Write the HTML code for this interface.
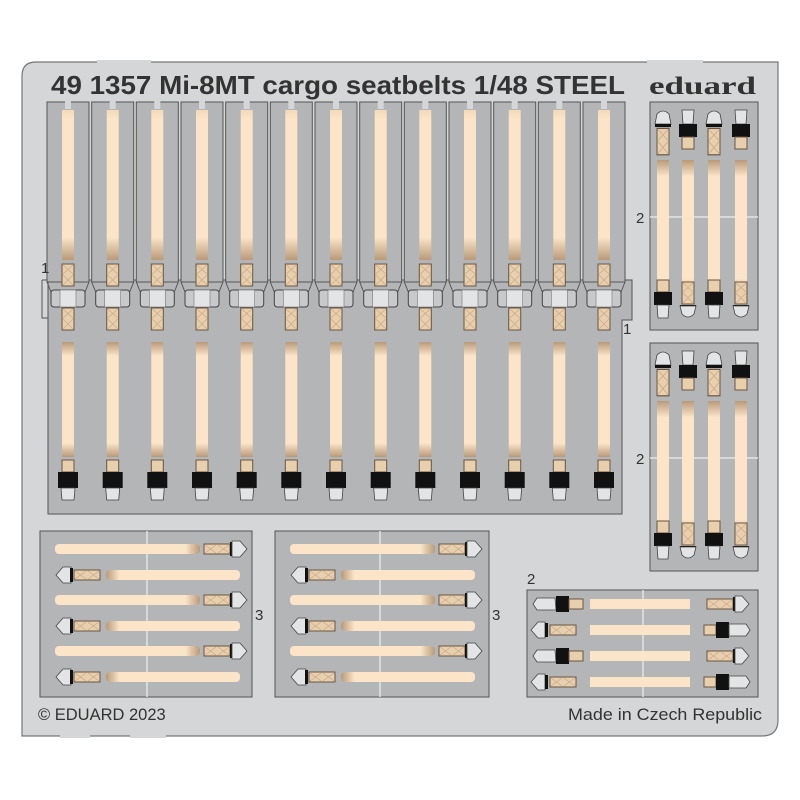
<!DOCTYPE html>
<html><head><meta charset="utf-8"><style>
html,body{margin:0;padding:0;background:#fff;width:800px;height:800px;overflow:hidden}
svg{display:block}
text{font-family:"Liberation Sans",sans-serif;fill:#333}
</style></head><body>
<svg width="800" height="800" viewBox="0 0 800 800" xmlns="http://www.w3.org/2000/svg">
<defs>
<linearGradient id="gv" x1="0" y1="0" x2="0" y2="1">
<stop offset="0" stop-color="#f3d9b8"/><stop offset="0.06" stop-color="#fbe4c8"/><stop offset="0.85" stop-color="#fbe4c8"/><stop offset="1" stop-color="#b89a7a"/>
</linearGradient>
<linearGradient id="gv2" x1="0" y1="0" x2="0" y2="1">
<stop offset="0" stop-color="#b89a7a"/><stop offset="0.12" stop-color="#fbe4c8"/><stop offset="0.88" stop-color="#fbe4c8"/><stop offset="1" stop-color="#b89a7a"/>
</linearGradient>
<linearGradient id="gh" x1="0" y1="0" x2="1" y2="0">
<stop offset="0" stop-color="#fbe4c8"/><stop offset="0.9" stop-color="#fbe4c8"/><stop offset="1" stop-color="#b89a7a"/>
</linearGradient>
<linearGradient id="gh2" x1="0" y1="0" x2="1" y2="0">
<stop offset="0" stop-color="#b89a7a"/><stop offset="0.1" stop-color="#fbe4c8"/><stop offset="1" stop-color="#fbe4c8"/>
</linearGradient>
<g id="boxv"><rect x="-6" y="0" width="12" height="22" fill="#e8cfae" stroke="#6a5540" stroke-width="1"/><path d="M-5 1L5 10M5 1L-5 10M-5 11L5 21M5 11L-5 21" stroke="#c9a987" stroke-width="0.7"/></g>
<g id="boxh"><rect x="0" y="-5" width="26" height="10" fill="#e8cfae" stroke="#6a5540" stroke-width="1"/><path d="M1 -4L12 4M12 -4L1 4M14 -4L25 4M25 -4L14 4" stroke="#c9a987" stroke-width="0.7"/></g>
<g id="col">
<rect x="-21" y="102" width="42" height="180" fill="#b3b5b7" stroke="#555" stroke-width="1"/>
<rect x="-3" y="101" width="6" height="8" fill="#d4d6d7"/>
<rect x="-6" y="110" width="12" height="150" fill="url(#gv)"/>
<use href="#boxv" y="264"/>
<path d="M-21 282L-17 292M21 282L17 292" stroke="#555" fill="none"/>
<rect x="-17" y="290" width="34" height="17" rx="3" fill="#c7c9cb" stroke="#444"/>
<rect x="-8" y="290" width="16" height="17" fill="#e2e4e5" stroke="#777" stroke-width="0.6"/>
<use href="#boxv" y="308"/>
<rect x="-6" y="342" width="12" height="115" fill="url(#gv2)"/>
<rect x="-6" y="460" width="12" height="12" fill="#e8cfae" stroke="#6a5540"/>
<rect x="-10" y="472" width="20" height="16" fill="#111"/>
<path d="M-7 488L7 488L6 500L-6 500Z" fill="#e2e4e5" stroke="#444" stroke-width="0.8"/>
</g>
<g id="vA">
<path d="M-8 124L-6 114Q0 108 6 114L8 124Z" fill="#e2e4e5" stroke="#444" stroke-width="0.8"/>
<rect x="-8" y="124" width="16" height="3" fill="#111"/>
<use href="#boxv" y="128" transform="scale(1,1.2) translate(0,-21)"/>
<rect x="-6" y="160" width="12" height="135" fill="url(#gv2)"/>
<rect x="-6" y="280" width="12" height="12" fill="#e8cfae" stroke="#6a5540"/>
<rect x="-9" y="292" width="18" height="13" fill="#111"/>
<path d="M-6 305L6 305L5 318L-5 318Z" fill="#e2e4e5" stroke="#444" stroke-width="0.8"/>
</g>
<g id="vB">
<path d="M-6 110L6 110L5 124L-5 124Z" fill="#e2e4e5" stroke="#444" stroke-width="0.8"/>
<rect x="-9" y="124" width="18" height="13" fill="#111"/>
<rect x="-6" y="137" width="12" height="12" fill="#e8cfae" stroke="#6a5540"/>
<rect x="-6" y="160" width="12" height="135" fill="url(#gv2)"/>
<use href="#boxv" y="282"/>
<rect x="-8" y="305" width="16" height="3" fill="#111"/>
<path d="M-8 306L8 306L6 314Q0 320 -6 314Z" fill="#e2e4e5" stroke="#444" stroke-width="0.8"/>
</g>
<g id="hR">
<rect x="15" y="-5" width="145" height="10" rx="4" fill="url(#gh)"/>
<use href="#boxh" x="164"/>
<rect x="190" y="-7" width="3" height="14" fill="#111"/>
<path d="M192 -8L200 -8L207 0L200 8L192 8Z" fill="#e2e4e5" stroke="#444" stroke-width="0.8"/>
</g>
<g id="hL">
<path d="M31 -8L23 -8L16 0L23 8L31 8Z" fill="#e2e4e5" stroke="#444" stroke-width="0.8"/>
<rect x="30" y="-7" width="3" height="14" fill="#111"/>
<use href="#boxh" x="34"/>
<rect x="66" y="-5" width="134" height="10" rx="4" fill="url(#gh2)"/>
</g>
</defs>

<path d="M22 76Q22 62 36 62L778 62L778 720Q778 736 762 736L22 736Z" fill="#d4d6d7" stroke="#777" stroke-width="1.2"/>
<rect x="97" y="60" width="54" height="4" fill="#d4d6d7"/>
<rect x="647" y="60" width="56" height="4" fill="#d4d6d7"/>
<rect x="60" y="734" width="30" height="4" fill="#d4d6d7"/>
<rect x="130" y="734" width="36" height="4" fill="#d4d6d7"/>

<text x="51" y="94" font-size="26" font-weight="bold" fill="#333" textLength="574" lengthAdjust="spacingAndGlyphs">49 1357 Mi-8MT cargo seatbelts 1/48  STEEL</text>
<text x="649" y="94" font-size="25" font-weight="bold" style="font-family:'Liberation Serif',serif" textLength="107" lengthAdjust="spacingAndGlyphs">eduard</text>

<path d="M42 280L48 280L48 514L622 514L622 320L632 320L632 280L622 280L48 280" fill="#b3b5b7" stroke="#555"/>
<path d="M42 280L42 318L48 318" fill="none" stroke="#555"/>
<use href="#col" x="68"/><use href="#col" x="112.7"/><use href="#col" x="157.3"/><use href="#col" x="202"/><use href="#col" x="246.7"/><use href="#col" x="291.3"/><use href="#col" x="336"/><use href="#col" x="380.7"/><use href="#col" x="425.3"/><use href="#col" x="470"/><use href="#col" x="514.7"/><use href="#col" x="559.3"/><use href="#col" x="604"/>
<text x="41" y="273" font-size="15">1</text>
<text x="623" y="334" font-size="15">1</text>

<rect x="650" y="102" width="108" height="228" fill="#b3b5b7" stroke="#555"/>
<line x1="650" y1="217" x2="758" y2="217" stroke="#e2e4e5" stroke-width="1.5"/>
<use href="#vA" x="663"/><use href="#vB" x="688"/><use href="#vA" x="714"/><use href="#vB" x="741"/>
<text x="636" y="223" font-size="15">2</text>
<rect x="650" y="343" width="108" height="228" fill="#b3b5b7" stroke="#555"/>
<line x1="650" y1="458" x2="758" y2="458" stroke="#e2e4e5" stroke-width="1.5"/>
<g transform="translate(0,241)"><use href="#vA" x="663"/><use href="#vB" x="688"/><use href="#vA" x="714"/><use href="#vB" x="741"/></g>
<text x="636" y="464" font-size="15">2</text>

<rect x="40" y="531" width="212" height="166" fill="#b3b5b7" stroke="#555"/>
<line x1="147" y1="531" x2="147" y2="697" stroke="#e2e4e5" stroke-width="1.5"/>
<use href="#hR" x="40" y="549"/><use href="#hL" x="40" y="575"/><use href="#hR" x="40" y="600"/><use href="#hL" x="40" y="626"/><use href="#hR" x="40" y="651"/><use href="#hL" x="40" y="677"/>
<text x="255" y="620" font-size="15">3</text>
<rect x="275" y="531" width="214" height="166" fill="#b3b5b7" stroke="#555"/>
<line x1="380" y1="531" x2="380" y2="697" stroke="#e2e4e5" stroke-width="1.5"/>
<use href="#hR" x="275" y="549"/><use href="#hL" x="275" y="575"/><use href="#hR" x="275" y="600"/><use href="#hL" x="275" y="626"/><use href="#hR" x="275" y="651"/><use href="#hL" x="275" y="677"/>
<text x="492" y="620" font-size="15">3</text>

<rect x="527" y="590" width="231" height="107" fill="#b3b5b7" stroke="#555"/>
<line x1="643" y1="590" x2="643" y2="697" stroke="#e2e4e5" stroke-width="1.5"/>
<text x="527" y="584" font-size="15">2</text>
<g id="brA">
<path d="M537 598L555 598L556 610L537 610L533 604Z" fill="#e2e4e5" stroke="#444" stroke-width="0.8"/>
<rect x="556" y="596" width="13" height="16" fill="#111"/>
<rect x="569" y="599" width="14" height="10" fill="#e8cfae" stroke="#6a5540"/>
<rect x="590" y="599" width="100" height="10" fill="#fbe4c8"/>
<use href="#boxh" x="707" y="604"/>
<rect x="733" y="597" width="3" height="14" fill="#111"/>
<path d="M735 596L742 596L749 604L742 612L735 612Z" fill="#e2e4e5" stroke="#444" stroke-width="0.8"/>
</g>
<g id="brB">
<path d="M545 622L538 622L531 630L538 638L545 638Z" fill="#e2e4e5" stroke="#444" stroke-width="0.8"/>
<rect x="545" y="623" width="3" height="14" fill="#111"/>
<use href="#boxh" x="550" y="630"/>
<rect x="590" y="625" width="100" height="10" fill="#fbe4c8"/>
<rect x="704" y="625" width="12" height="10" fill="#e8cfae" stroke="#6a5540"/>
<rect x="716" y="622" width="13" height="16" fill="#111"/>
<path d="M729 624L746 624L750 630L746 636L729 636Z" fill="#e2e4e5" stroke="#444" stroke-width="0.8"/>
</g>
<use href="#brA" y="52"/><use href="#brB" y="52"/>

<text x="38" y="720" font-size="16.5">© EDUARD 2023</text>
<text x="568" y="720" font-size="16.5" textLength="194" lengthAdjust="spacingAndGlyphs">Made in Czech Republic</text>
</svg>
</body></html>
